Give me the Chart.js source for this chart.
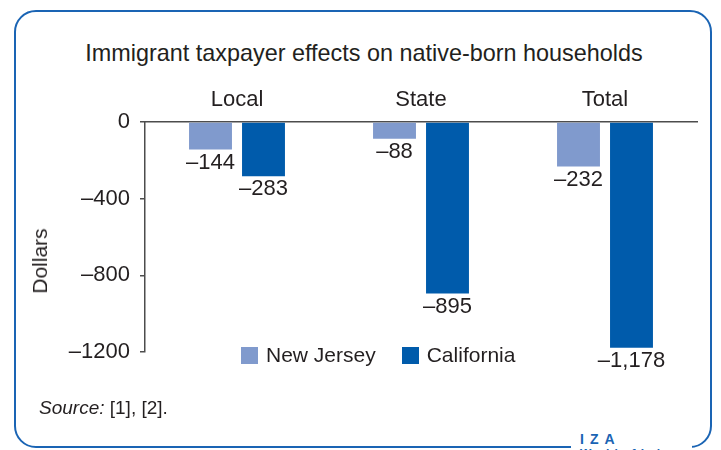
<!DOCTYPE html>
<html lang="en">
<head>
  <meta charset="UTF-8">
  <title>Immigrant taxpayer effects on native-born households</title>
  <script src="https://cdn.jsdelivr.net/npm/chart.js"></script>
  <style>
    body {
      margin: 0;
      background: #fff;
      font-family: 'Liberation Sans', Arial, sans-serif;
      color: #231f20;
    }
    .page {
      position: relative;
      width: 721px;
      height: 450px;
      overflow: hidden;
    }
    .frame {
      position: absolute;
      left: 14px;
      top: 10px;
      width: 694px;
      height: 434px;
      border: 2.5px solid #1a64b4;
      border-radius: 22px;
    }
    .chart-box {
      position: absolute;
      left: 0;
      top: 0;
      width: 721px;
      height: 450px;
    }
    .title {
      position: absolute;
      left: 14px;
      width: 700px;
      top: 40px;
      text-align: center;
      font-size: 23.4px;
      line-height: 27px;
    }
    .ytitle {
      position: absolute;
      left: 40px;
      top: 261px;
      font-size: 21px;
      line-height: 24px;
      white-space: nowrap;
      transform: translate(-50%, -50%) rotate(-90deg);
    }
    .legend {
      position: absolute;
      left: 241px;
      top: 342px;
      display: flex;
      align-items: center;
      font-size: 21px;
      line-height: 26px;
    }
    .legend-item {
      display: flex;
      align-items: center;
      margin-right: 26px;
    }
    .legend-item span.box {
      display: inline-block;
      width: 17px;
      height: 17px;
      margin-right: 8px;
    }
    .source {
      position: absolute;
      left: 39px;
      top: 397px;
      font-size: 19px;
      line-height: 22px;
    }
    .logo {
      position: absolute;
      left: 571px;
      top: 431px;
      width: 121px;
      height: 30px;
      background: #fff;
      color: #1a64b4;
    }
    .logo .iza {
      position: absolute;
      left: 9px;
      top: 0;
      font-weight: bold;
      font-size: 14px;
      letter-spacing: 6px;
    }
    .logo .wol {
      position: absolute;
      left: 9px;
      top: 16px;
      font-weight: bold;
      font-size: 12px;
      letter-spacing: 1px;
    }
  </style>
</head>
<body>
  <div class="page">
    <div class="frame"></div>
    <div class="title">Immigrant taxpayer effects on native-born households</div>
    <div class="chart-box">
      <canvas id="chart"></canvas>
    </div>
    <div class="ytitle">Dollars</div>
    <div class="legend" id="legend"></div>
    <div class="source"><i>Source:</i> [1], [2].</div>
    <div class="logo"><span class="iza">IZA</span><span class="wol">World of Labor</span></div>
  </div>

  <script>
    // data
    const categories = ['Local', 'State', 'Total'];
    const newJersey = [-144, -88, -232];
    const california = [-283, -895, -1178];
    const yTicks = [0, -400, -800, -1200];

    const colorNJ = '#809acd';
    const colorCA = '#005bab';
    const axisColor = '#4d4d4d';
    const textColor = '#231f20';
    const fontFamily = '"Liberation Sans", Arial, sans-serif';

    // en dash for negatives, thousands separator for bar values
    function fmt(v, comma) {
      const a = Math.abs(v);
      const s = comma ? a.toLocaleString('en-US') : String(a);
      return v < 0 ? '\u2013' + s : s;
    }

    // value labels under each bar
    const barLabels = {
      id: 'barLabels',
      afterDatasetsDraw(chart) {
        const ctx = chart.ctx;
        ctx.save();
        ctx.font = '22px ' + fontFamily;
        ctx.fillStyle = textColor;
        ctx.textAlign = 'center';
        ctx.textBaseline = 'top';
        chart.data.datasets.forEach((ds, i) => {
          chart.getDatasetMeta(i).data.forEach((bar, j) => {
            ctx.fillText(fmt(ds.data[j], true), bar.x, bar.y + 2);
          });
        });
        ctx.restore();
      }
    };

    const chart = new Chart(document.getElementById('chart'), {
      type: 'bar',
      data: {
        labels: categories,
        datasets: [
          { label: 'New Jersey', data: newJersey, backgroundColor: colorNJ },
          { label: 'California', data: california, backgroundColor: colorCA }
        ]
      },
      options: {
        responsive: true,
        maintainAspectRatio: false,
        animation: false,
        categoryPercentage: 0.576,
        barPercentage: 0.81,
        layout: { padding: { top: 0, right: 24, bottom: 98, left: 0 } },
        plugins: {
          legend: { display: false },
          tooltip: { enabled: false }
        },
        scales: {
          x: {
            position: 'top',
            afterFit: s => { s.height = 122; },
            grid: { display: false, drawTicks: false },
            border: { display: true, color: axisColor, width: 1.5 },
            ticks: {
              color: textColor,
              padding: 9,
              font: { family: fontFamily, size: 22 }
            }
          },
          y: {
            min: -1200,
            max: 0,
            afterFit: s => { s.width = 145; },
            afterBuildTicks: s => { s.ticks = yTicks.map(v => ({ value: v })); },
            grid: { drawOnChartArea: false, tickLength: 5, color: axisColor, lineWidth: 1.5 },
            border: { display: true, color: axisColor, width: 1.5 },
            ticks: {
              color: textColor,
              padding: 10,
              callback: v => fmt(v, false),
              font: { family: fontFamily, size: 22 }
            }
          }
        }
      },
      plugins: [barLabels]
    });

    // legend built from the datasets
    const legendEl = document.getElementById('legend');
    chart.data.datasets.forEach(ds => {
      const item = document.createElement('div');
      item.className = 'legend-item';
      const box = document.createElement('span');
      box.className = 'box';
      box.style.background = ds.backgroundColor;
      item.appendChild(box);
      item.appendChild(document.createTextNode(ds.label));
      legendEl.appendChild(item);
    });
  </script>
</body>
</html>
